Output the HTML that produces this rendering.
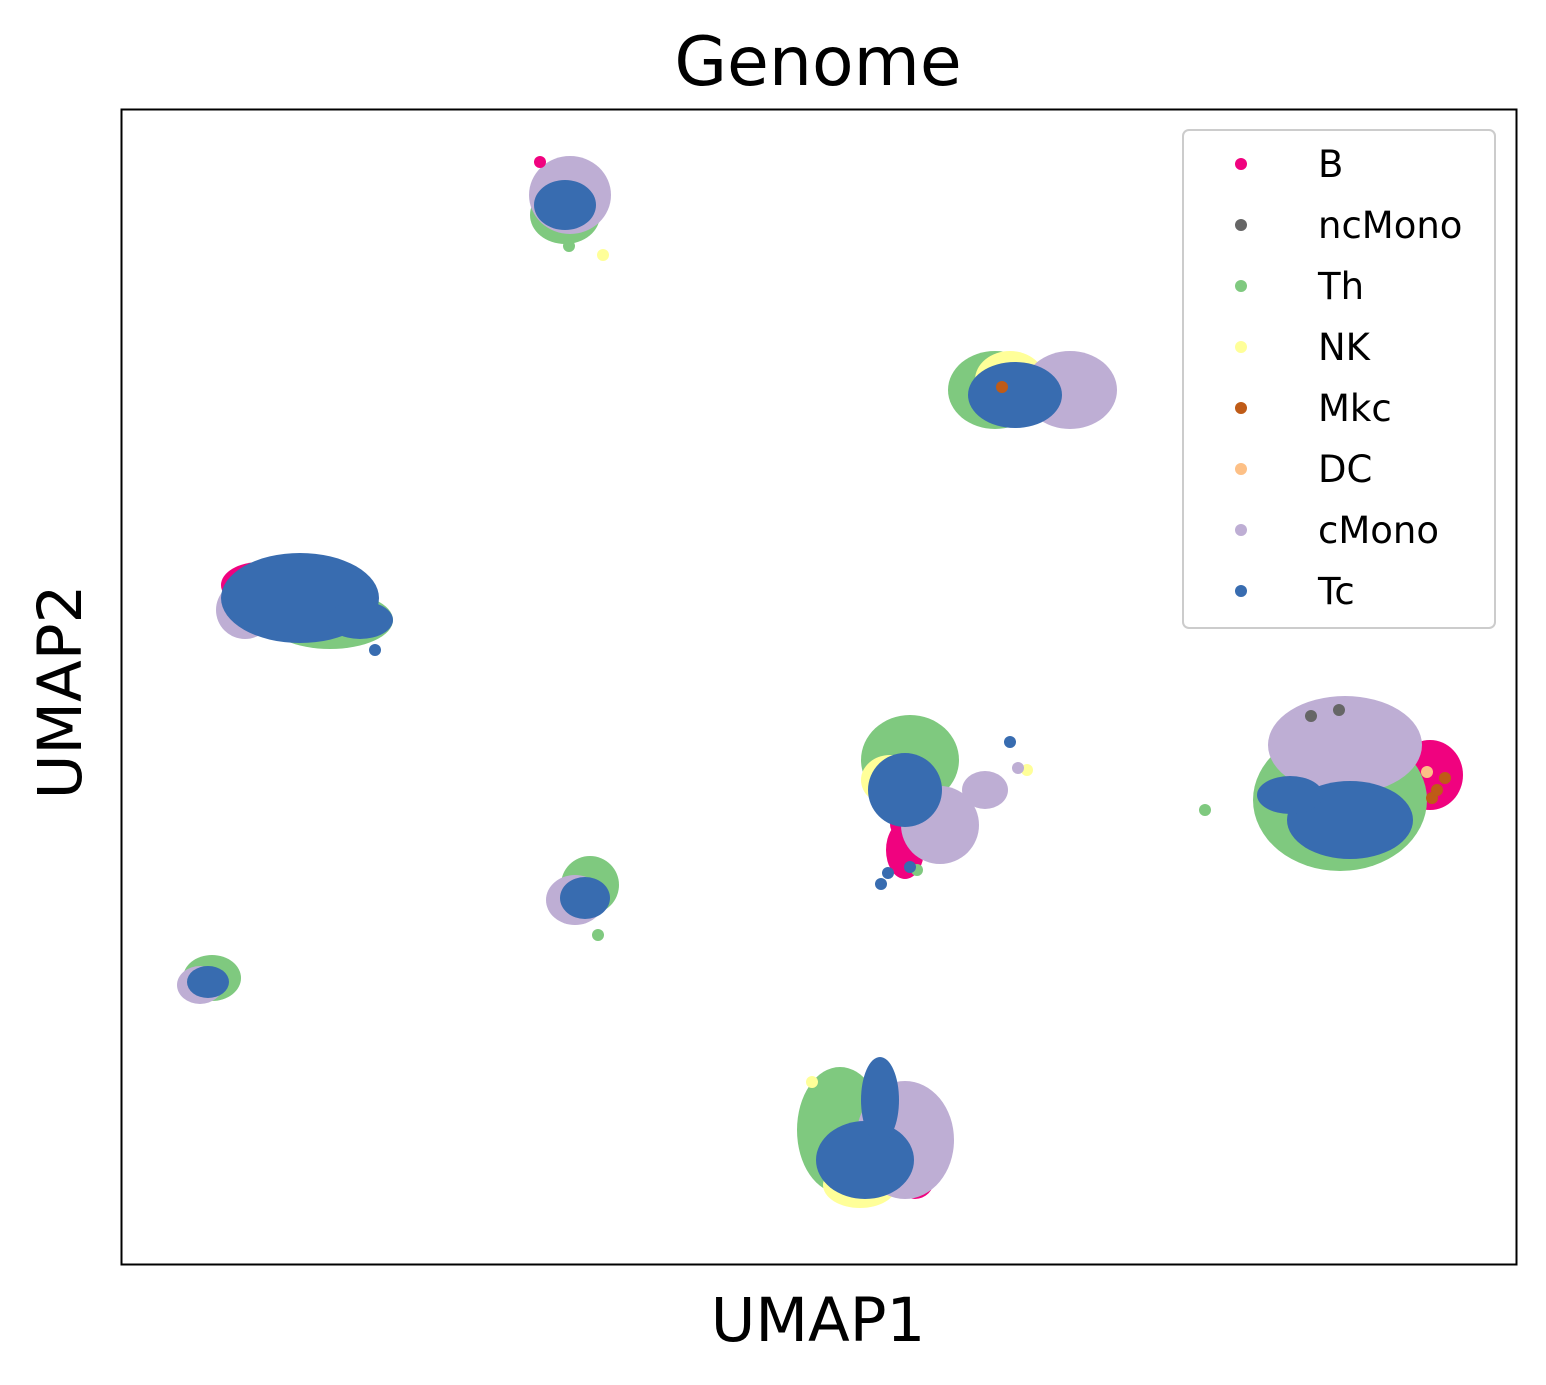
<!DOCTYPE html>
<html><head><meta charset="utf-8"><style>
html,body{margin:0;padding:0;background:#fff;}
svg{display:block;font-family:"DejaVu Sans","Liberation Sans",sans-serif;}
</style></head><body>
<svg id="chart" width="1546" height="1385" viewBox="0 0 1546 1385">
<rect x="0" y="0" width="1546" height="1385" fill="#fff"/>
<text x="818" y="85" font-size="68" text-anchor="middle" fill="#000">Genome</text>
<g id="marks"></g>
<rect x="121.5" y="109.5" width="1395" height="1155" fill="none" stroke="#000" stroke-width="2"/>
<text x="818" y="1341" font-size="61" text-anchor="middle" fill="#000">UMAP1</text>
<text x="81" y="692" font-size="61" text-anchor="middle" fill="#000" transform="rotate(-90 81 692)">UMAP2</text>
<g id="legend">
<rect x="1183" y="130" width="312" height="498" rx="6" fill="#fff" fill-opacity="0.8" stroke="#ccc" stroke-width="2"/>
</g>
</svg>
<script>
const categories = ["B","ncMono","Th","NK","Mkc","DC","cMono","Tc"];
const colors = ["#f0027f","#666666","#7fc97f","#ffff99","#bf5b17","#fdc086","#beaed4","#386cb0"];
// dense sub-populations: category, UMAP1, UMAP2, spread x, spread y
const blobCat = [6,2,7, 2,3,6,7, 0,6,2,7,7, 2,3,6,0,7,6, 2,6,0,7,7, 6,2,7, 2,6,7, 2,6,0,3,7,7, 0,0];
const blobX = [449,444,444, 874,889,949,894, 139,124,209,179,239, 789,769,819,784,784,864, 1219,1224,1309,1229,1169, 454,469,464, 91,79,87, 719,784,794,739,744,759, 1285,784];
const blobY = [1069,1049,1059, 874,884,874,869, 679,654,644,666,644, 504,484,439,414,474,474, 464,519,489,444,469, 364,379,366, 286,279,282, 134,124,84,79,104,164, 480,440];
const blobRX = [36,30,26, 42,30,42,42, 34,24,58,74,28, 44,24,34,14,32,18, 82,72,28,58,28, 24,24,20, 24,18,16, 38,44,14,32,44,14, 14,10];
const blobRY = [34,24,20, 34,24,34,28, 18,24,24,40,14, 40,20,34,24,32,14, 66,44,30,34,14, 20,24,16, 18,14,11, 58,54,14,18,34,38, 20,10];
// scattered individual cells
const ptCat = [2,7,7,6,4,4,3,3,7,3,0,2,7,2,4,5,7,2,4,1,1];
const ptX = [1084,889,767,897,1324,1311,691,482,254,906,419,796,760,477,1316,1306,789,448,881,1218,1190];
const ptY = [454,522,391,496,486,466,182,1009,614,494,1102,394,380,329,474,492,397,1018,877,554,548];

const W=1395,H=1155,X0=121,Y0=109;
const xDom=[0,1395], yDom=[0,1155];
function sx(v){return X0+(v-xDom[0])/(xDom[1]-xDom[0])*W;}
function sy(v){return Y0+H-(v-yDom[0])/(yDom[1]-yDom[0])*H;}
const NS="http://www.w3.org/2000/svg";
const g=document.getElementById("marks");
const order=[...blobCat.keys()].sort((a,b)=>blobCat[a]-blobCat[b]);
order.forEach(i=>{
  const e=document.createElementNS(NS,"ellipse");
  e.setAttribute("cx",sx(blobX[i]));e.setAttribute("cy",sy(blobY[i]));
  e.setAttribute("rx",blobRX[i]+5);e.setAttribute("ry",blobRY[i]+5);
  e.setAttribute("fill",colors[blobCat[i]]);
  
  
  g.appendChild(e);
});
const porder=[...ptCat.keys()].sort((a,b)=>ptCat[a]-ptCat[b]);
porder.forEach(i=>{
  const c=document.createElementNS(NS,"circle");
  c.setAttribute("cx",sx(ptX[i]));c.setAttribute("cy",sy(ptY[i]));c.setAttribute("r",6);
  c.setAttribute("fill",colors[ptCat[i]]);
  
  
  g.appendChild(c);
});
const lg=document.getElementById("legend");
categories.forEach((c,i)=>{
  const y=164+i*61;
  const m=document.createElementNS(NS,"circle");
  m.setAttribute("cx",1241);m.setAttribute("cy",y);m.setAttribute("r",6);m.setAttribute("fill",colors[i]);
  
  
  lg.appendChild(m);
  const t=document.createElementNS(NS,"text");
  t.setAttribute("x",1318);t.setAttribute("y",y+13);t.setAttribute("font-size","37");t.textContent=c;
  
  
  lg.appendChild(t);
});
</script>
</body></html>
